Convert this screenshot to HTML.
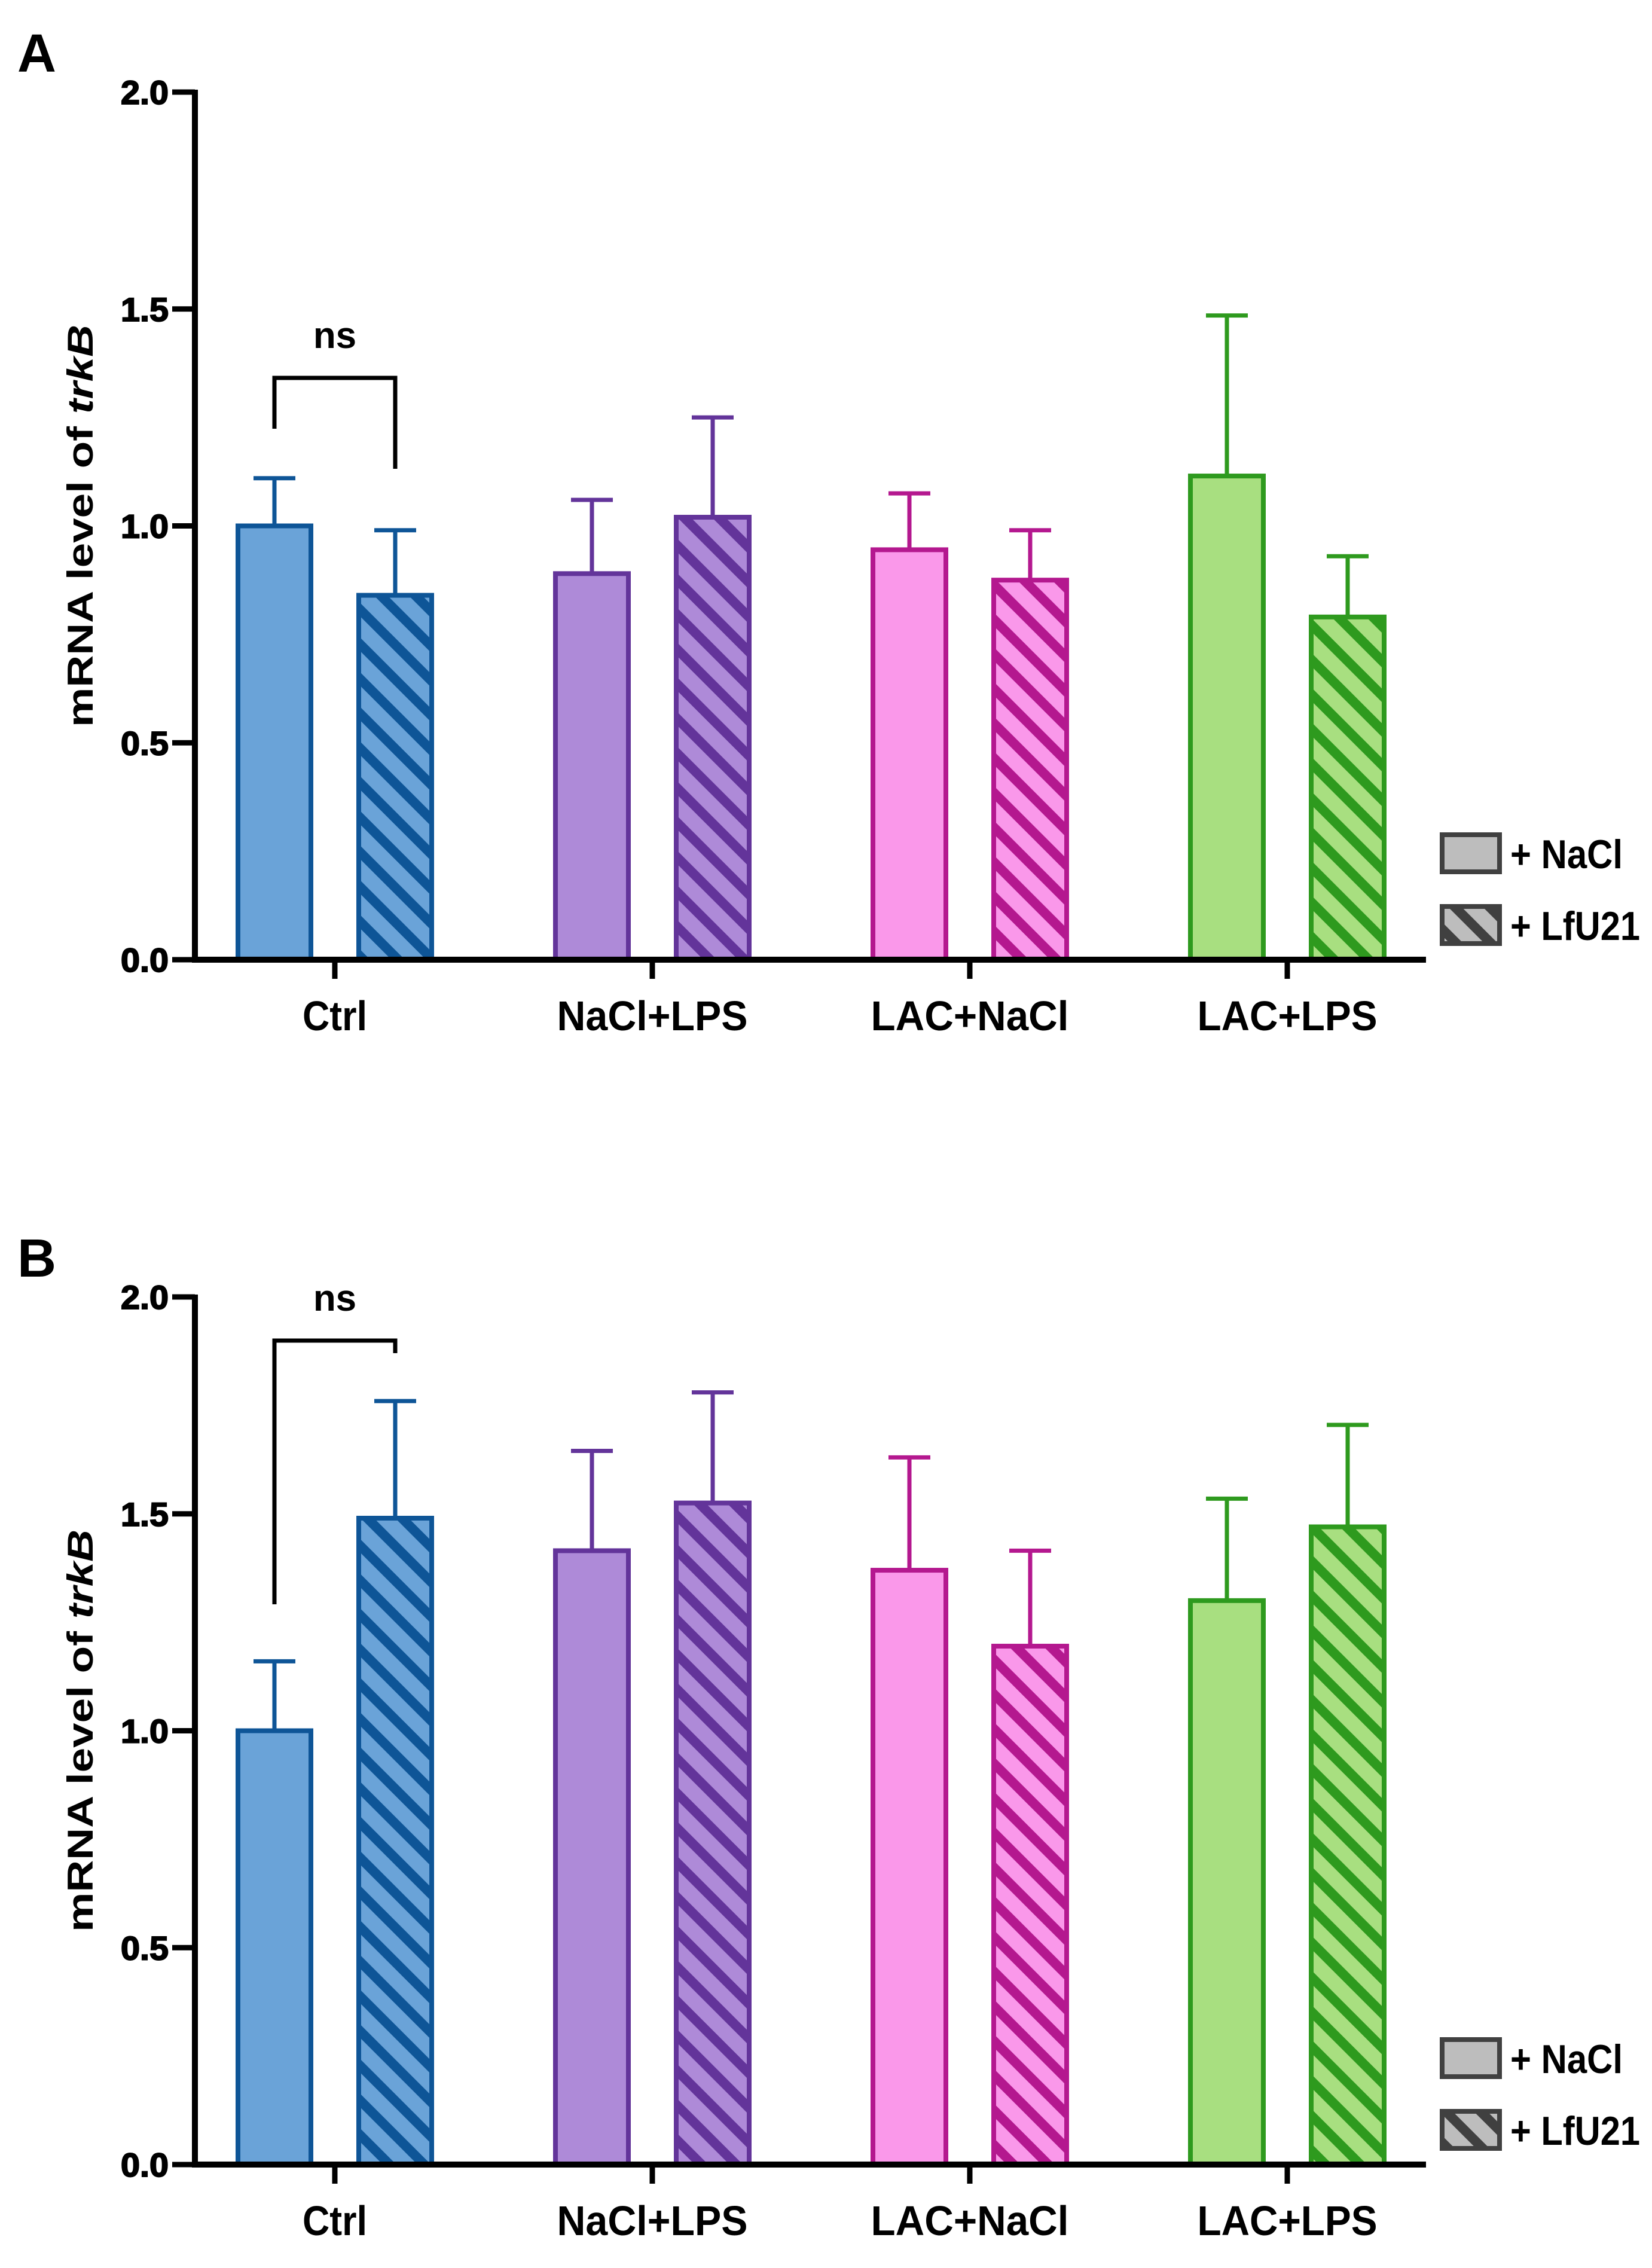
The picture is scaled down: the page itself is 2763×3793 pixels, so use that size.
<!DOCTYPE html>
<html><head><meta charset="utf-8"><style>
html,body{margin:0;padding:0;background:#fff;}
svg text{font-family:"Liberation Sans",Arial,sans-serif;font-weight:bold;fill:#000;}
</style></head><body>
<svg id="chart" xmlns="http://www.w3.org/2000/svg" width="2763" height="3788" viewBox="0 0 2763 3788">
<defs>
<pattern id="hb" patternUnits="userSpaceOnUse" width="41" height="41" patternTransform="rotate(45)"><rect width="41" height="41" fill="#6aa3d8"/><rect width="41" height="16" fill="#0e5597"/></pattern>
<pattern id="hp" patternUnits="userSpaceOnUse" width="41" height="41" patternTransform="rotate(45)"><rect width="41" height="41" fill="#ae8ad8"/><rect width="41" height="16" fill="#63349a"/></pattern>
<pattern id="hk" patternUnits="userSpaceOnUse" width="41" height="41" patternTransform="rotate(45)"><rect width="41" height="41" fill="#fa98ea"/><rect width="41" height="16" fill="#b4188f"/></pattern>
<pattern id="hg" patternUnits="userSpaceOnUse" width="41" height="41" patternTransform="rotate(45)"><rect width="41" height="41" fill="#a8df80"/><rect width="41" height="16" fill="#2e9a1e"/></pattern>
<pattern id="hgr" patternUnits="userSpaceOnUse" width="41" height="41" patternTransform="rotate(45)"><rect width="41" height="41" fill="#bdbdbd"/><rect width="41" height="16" fill="#404040"/></pattern>
</defs>
</svg>
<script>
const categories = ["Ctrl","NaCl+LPS","LAC+NaCl","LAC+LPS"];
const yTicks = [0,0.5,1.0,1.5,2.0];
const yTickLabels = ["0.0","0.5","1.0","1.5","2.0"];
const aNaCl = [1.0,0.89,0.945,1.115];
const aNaClErr = [1.11,1.06,1.075,1.485];
const aLfU = [0.84,1.02,0.875,0.79];
const aLfUErr = [0.99,1.25,0.99,0.93];
const bNaCl = [1.0,1.415,1.37,1.30];
const bNaClErr = [1.16,1.645,1.63,1.535];
const bLfU = [1.49,1.525,1.195,1.47];
const bLfUErr = [1.76,1.78,1.415,1.705];

const NS = "http://www.w3.org/2000/svg";
const svg = document.getElementById("chart");
const fills = ["#6aa3d8","#ae8ad8","#fa98ea","#a8df80"];
const strokes = ["#0e5597","#63349a","#b4188f","#2e9a1e"];
const hatches = ["url(#hb)","url(#hp)","url(#hk)","url(#hg)"];
const catLen = [108,319,331,301];
function mk(tag, attrs, parent){const e=document.createElementNS(NS,tag);for(const k in attrs)e.setAttribute(k,attrs[k]);(parent||svg).appendChild(e);return e;}

function panel(letter, y0, nacl, naclErr, lfu, lfuErr, bracketY, leftY, rightY){
  const g = mk("g",{});
  
  
  const axX = 326, yZero = y0, yTop = y0-1451;
  const yS = v => yZero - v/2*(yZero-yTop);
  const xC = i => 560 + i*531;
  const t = mk("text",{x:29,y:y0-1485,"font-size":90},g); t.textContent=letter;
  
  
  categories.forEach((c,i)=>{
    [[nacl,naclErr,-101,fills[i]],[lfu,lfuErr,101,hatches[i]]].forEach(([vals,errs,off,f],j)=>{
      const cx = xC(i)+off, w=122;
      const el = mk("line",{x1:cx,x2:cx,y1:yS(vals[i]),y2:yS(errs[i]),stroke:strokes[i],"stroke-width":7},g);
      
      
      const cap = mk("line",{x1:cx-35,x2:cx+35,y1:yS(errs[i]),y2:yS(errs[i]),stroke:strokes[i],"stroke-width":7},g);
      
      
      const r = mk("rect",{x:cx-w/2,y:yS(vals[i]),width:w,height:yZero-yS(vals[i]),fill:f,stroke:strokes[i],"stroke-width":8},g);
      
      
    });
    const tk = mk("line",{x1:xC(i),x2:xC(i),y1:yZero,y2:yZero+32,stroke:"#000","stroke-width":9},g);
    
    
    const lb = mk("text",{x:xC(i),y:yZero+118,"font-size":70,"text-anchor":"middle",textLength:catLen[i],lengthAdjust:"spacingAndGlyphs"},g);
    lb.textContent=c;
    
    
  });
  const ya = mk("line",{x1:axX,x2:axX,y1:yTop-4,y2:yZero+5,stroke:"#000","stroke-width":10},g);
  
  
  const xa = mk("line",{x1:axX-5,x2:2385,y1:yZero,y2:yZero,stroke:"#000","stroke-width":10},g);
  
  
  yTicks.forEach((v,k)=>{
    const l = mk("line",{x1:axX-38,x2:axX,y1:yS(v),y2:yS(v),stroke:"#000","stroke-width":9},g);
    
    
    const tx = mk("text",{x:202,y:yS(v)+20,"font-size":56,stroke:"#000","stroke-width":2,textLength:80,lengthAdjust:"spacingAndGlyphs"},g);
    tx.textContent=yTickLabels[k];
    
    
  });
  const yt = mk("text",{x:0,y:0,"font-size":60,"text-anchor":"middle",textLength:673,lengthAdjust:"spacingAndGlyphs",transform:`translate(155,${yS(1.0)}) rotate(-90)`},g);
  yt.innerHTML = 'mRNA level of <tspan font-style="italic">trkB</tspan>';
  
  
  const br = mk("polyline",{points:`${xC(0)-101},${leftY} ${xC(0)-101},${bracketY} ${xC(0)+101},${bracketY} ${xC(0)+101},${rightY}`,fill:"none",stroke:"#000","stroke-width":7},g);
  
  
  const ns = mk("text",{x:xC(0),y:bracketY-50,"font-size":62,"text-anchor":"middle"},g);
  ns.textContent="ns";
  
  
  const l1 = mk("rect",{x:2412,y:y0-209,width:96,height:62,fill:"#bdbdbd",stroke:"#404040","stroke-width":8},g);
  
  
  const t1 = mk("text",{x:2526,y:y0-153,"font-size":68,textLength:188,lengthAdjust:"spacingAndGlyphs"},g);
  t1.textContent="+ NaCl";
  
  
  const l2 = mk("rect",{x:2412,y:y0-89,width:96,height:62,fill:"url(#hgr)",stroke:"#404040","stroke-width":8},g);
  
  
  const t2 = mk("text",{x:2526,y:y0-33,"font-size":68,textLength:217,lengthAdjust:"spacingAndGlyphs"},g);
  t2.textContent="+ LfU21";
  
  
}
panel("A",1605,aNaCl,aNaClErr,aLfU,aLfUErr,632,717,784);
panel("B",3620,bNaCl,bNaClErr,bLfU,bLfUErr,2242,2683,2263);
</script>
</body></html>
